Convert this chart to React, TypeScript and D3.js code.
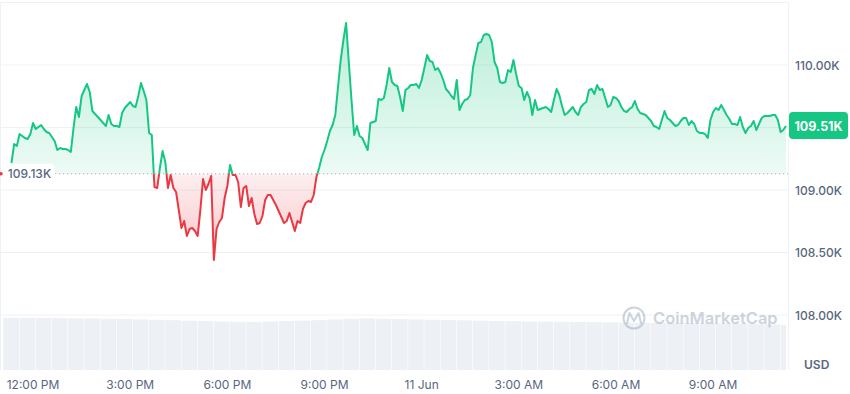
import React from "react";
import * as d3 from "d3";

// 24h price, one value every 5 minutes starting 10 Jun 11:20
const startTime = new Date(2025, 5, 10, 11, 20);
const stepMinutes = 5;
const prices = [
  109216, 109368, 109352, 109448, 109432, 109416, 109408, 109448, 109536, 109488, 109504, 109520,
  109488, 109464, 109456, 109424, 109392, 109320, 109336, 109328, 109328, 109320, 109304, 109496,
  109664, 109584, 109752, 109800, 109848, 109784, 109632, 109608, 109584, 109560, 109536, 109512,
  109600, 109528, 109512, 109512, 109504, 109616, 109656, 109680, 109704, 109672, 109664, 109752,
  109856, 109792, 109720, 109456, 109440, 109024, 109016, 109176, 109312, 109224, 109016, 109120,
  109016, 108984, 108840, 108696, 108752, 108632, 108688, 108696, 108672, 108632, 108840, 109088,
  109000, 109048, 109112, 108440, 108688, 108744, 108776, 108936, 109032, 109200, 109120, 109120,
  109064, 108864, 109016, 109032, 108872, 108936, 108808, 108728, 108736, 108792, 108920, 108960,
  108960, 108920, 108880, 108832, 108784, 108736, 108752, 108816, 108744, 108672, 108752, 108736,
  108848, 108896, 108912, 108904, 108960, 109104, 109176, 109264, 109320, 109392, 109472, 109520,
  109600, 109824, 110040, 110200, 110336, 110024, 109720, 109440, 109512, 109432, 109416, 109368,
  109320, 109536, 109544, 109552, 109728, 109720, 109736, 109840, 109976, 109864, 109840, 109832,
  109744, 109632, 109800, 109816, 109840, 109840, 109848, 109816, 109880, 109976, 110080, 110032,
  110024, 109960, 109976, 109936, 109880, 109808, 109784, 109752, 109728, 109880, 109640, 109688,
  109720, 109728, 109760, 109976, 110080, 110176, 110184, 110240, 110248, 110240, 110184, 110024,
  109976, 109864, 109856, 109864, 109960, 109944, 110040, 109928, 109832, 109816, 109720, 109784,
  109736, 109600, 109720, 109640, 109648, 109656, 109664, 109648, 109624, 109720, 109808, 109760,
  109672, 109600, 109616, 109640, 109664, 109624, 109600, 109664, 109688, 109704, 109800, 109808,
  109768, 109840, 109800, 109808, 109736, 109664, 109680, 109744, 109736, 109712, 109664, 109632,
  109624, 109648, 109664, 109712, 109648, 109616, 109608, 109600, 109576, 109552, 109512, 109504,
  109488, 109560, 109632, 109576, 109560, 109536, 109512, 109520, 109552, 109576, 109576, 109520,
  109552, 109528, 109472, 109456, 109456, 109448, 109416, 109560, 109624, 109656, 109640, 109680,
  109640, 109600, 109568, 109528, 109528, 109520, 109584, 109504, 109456, 109496, 109512, 109552,
  109480, 109528, 109576, 109592, 109592, 109592, 109600, 109600, 109560, 109464, 109480, 109512,
];
const openPrice = 109130;

// rolling 24h volume (billions USD), every 30 minutes from 11:05
const volumeStart = new Date(2025, 5, 10, 11, 5);
const volumeStepMinutes = 30;
const volumes = [
  52.3, 52.1, 52.0, 51.8, 51.6, 51.5, 51.2, 51.0, 50.6, 50.2, 49.8, 49.3,
  48.9, 48.5, 48.2, 48.1, 48.6, 49.0, 49.4, 49.8, 50.6, 51.3, 51.5, 51.2,
  50.9, 50.6, 50.3, 50.0, 49.7, 49.3, 49.0, 48.8, 48.6, 48.4, 48.2, 48.0,
  47.8, 47.6, 47.4, 47.2, 47.1, 47.0, 46.9, 46.8, 46.6, 46.3, 46.0, 45.6, 45.2,
];

const yTickValues = [108000, 108500, 109000, 109500, 110000];
const xTickLabels = ["12:00 PM", "3:00 PM", "6:00 PM", "9:00 PM", "11 Jun", "3:00 AM", "6:00 AM", "9:00 AM"];

const width = 850;
const height = 394;
const plotRight = 788;
const plotTop = 2;
const plotBottom = 370;
const green = "#16c784";
const red = "#ea3943";
const textGray = "#58667e";
const gridColor = "#eff2f5";
const font = "Inter, 'Noto Sans', sans-serif";

const timeAt = (start: Date, step: number, i: number) =>
  new Date(start.getTime() + i * step * 60000);

const fmtK = (v: number) => d3.format(".2f")(v / 1000) + "K";

export default function App() {
  const endTime = timeAt(startTime, stepMinutes, prices.length - 1);
  const x = d3.scaleTime().domain([startTime, endTime]).range([11.45, 786]);
  const y = d3.scaleLinear().domain([108000, 110000]).range([315, 65]);
  const yVol = d3.scaleLinear().domain([0, 60]).range([plotBottom, 310]);

  const baseY = y(openPrice);
  const lastPrice = prices[prices.length - 1];
  const lastY = y(lastPrice);

  const px = (_: number, i: number) => x(timeAt(startTime, stepMinutes, i));
  const line = d3.line<number>().x(px).y((d) => y(d));
  const area = d3.area<number>().x(px).y0(baseY).y1((d) => y(d));

  const xTicks = x.ticks(d3.timeHour.every(3)!);
  const volW = x(timeAt(volumeStart, volumeStepMinutes, 1)) - x(volumeStart);

  return (
    <svg
      width={width}
      height={height}
      viewBox={`0 0 ${width} ${height}`}
      style={{ position: "absolute", left: 0, top: 0, background: "#fff" }}
      fontFamily={font}
    >
      <defs>
        <clipPath id="above">
          <rect x={0} y={0} width={plotRight} height={baseY} />
        </clipPath>
        <clipPath id="below">
          <rect x={0} y={baseY} width={plotRight} height={plotBottom - baseY} />
        </clipPath>
        <clipPath id="plot">
          <rect x={0} y={0} width={786} height={plotBottom} />
        </clipPath>
        <linearGradient id="gUp" gradientUnits="userSpaceOnUse" x1={0} x2={0} y1={20} y2={baseY}>
          <stop offset="0" stopColor={green} stopOpacity={0.3} />
          <stop offset="1" stopColor={green} stopOpacity={0.08} />
        </linearGradient>
        <linearGradient id="gDown" gradientUnits="userSpaceOnUse" x1={0} x2={0} y1={baseY} y2={262}>
          <stop offset="0" stopColor={red} stopOpacity={0.08} />
          <stop offset="1" stopColor={red} stopOpacity={0.3} />
        </linearGradient>
      </defs>

      {/* frame */}
      <line x1={0} x2={plotRight} y1={plotTop + 0.5} y2={plotTop + 0.5} stroke={gridColor} />
      <line x1={0.5} x2={0.5} y1={plotTop} y2={plotBottom} stroke={gridColor} />
      <line x1={plotRight + 0.5} x2={plotRight + 0.5} y1={plotTop} y2={plotBottom} stroke={gridColor} />

      {/* grid */}
      {yTickValues.map((v) => (
        <line key={v} x1={0} x2={plotRight} y1={y(v)} y2={y(v)} stroke={gridColor} strokeWidth={1} />
      ))}

      {/* volume */}
      <g clipPath="url(#plot)">
        {volumes.map((v, i) => (
          <rect
            key={i}
            x={x(timeAt(volumeStart, volumeStepMinutes, i))}
            y={yVol(v)}
            width={volW - 0.6}
            height={plotBottom - yVol(v)}
            fill="#edf0f4"
          />
        ))}
      </g>

      {/* watermark */}
      <g opacity={0.55}>
        <circle cx={634} cy={318} r={10.5} fill="none" stroke="#a6b0c3" strokeWidth={2} />
        <path
          d="M627,323 L629.5,313 L634,321 L638.5,313 L641,323"
          fill="none"
          stroke="#a6b0c3"
          strokeWidth={2}
          strokeLinejoin="round"
          strokeLinecap="round"
        />
        <text x={653} y={324} fontSize={16.5} fontWeight={600} fill="#a6b0c3">
          CoinMarketCap
        </text>
      </g>

      {/* areas */}
      <path d={area(prices) ?? ""} fill="url(#gUp)" clipPath="url(#above)" />
      <path d={area(prices) ?? ""} fill="url(#gDown)" clipPath="url(#below)" />

      {/* baseline */}
      <line x1={55} x2={plotRight} y1={baseY} y2={baseY} stroke="#a6b0c3" strokeWidth={1} strokeDasharray="1.2 2.8" />

      {/* price line */}
      <path d={line(prices) ?? ""} fill="none" stroke={green} strokeWidth={2} strokeLinejoin="round" clipPath="url(#above)" />
      <path d={line(prices) ?? ""} fill="none" stroke={red} strokeWidth={2} strokeLinejoin="round" clipPath="url(#below)" />

      {/* open price label */}
      <circle cx={1} cy={baseY} r={1.8} fill={red} />
      <rect x={4} y={baseY - 10} width={51} height={20} rx={5} fill="#fff" fillOpacity={0.92} />
      <text x={29.5} y={baseY + 4.5} textAnchor="middle" fontSize={12} fontWeight={500} fill={textGray}>
        {fmtK(openPrice)}
      </text>

      {/* y axis */}
      {yTickValues
        .filter((v) => Math.abs(y(v) - lastY) > 18)
        .map((v) => (
          <text key={v} x={795} y={y(v) + 4.5} fontSize={12} fontWeight={500} fill={textGray}>
            {fmtK(v)}
          </text>
        ))}
      <rect x={789} y={lastY - 14} width={59} height={27} rx={4} fill={green} />
      <text x={818.5} y={lastY + 4.5} textAnchor="middle" fontSize={12.5} fontWeight={700} fill="#fff">
        {fmtK(lastPrice)}
      </text>
      <text x={804} y={369} fontSize={12} fontWeight={600} fill={textGray}>
        USD
      </text>

      {/* x axis */}
      {xTicks.map((t, i) => (
        <text key={i} x={x(t)} y={389} textAnchor="middle" fontSize={12} fill={textGray}>
          {xTickLabels[i]}
        </text>
      ))}
    </svg>
  );
}
